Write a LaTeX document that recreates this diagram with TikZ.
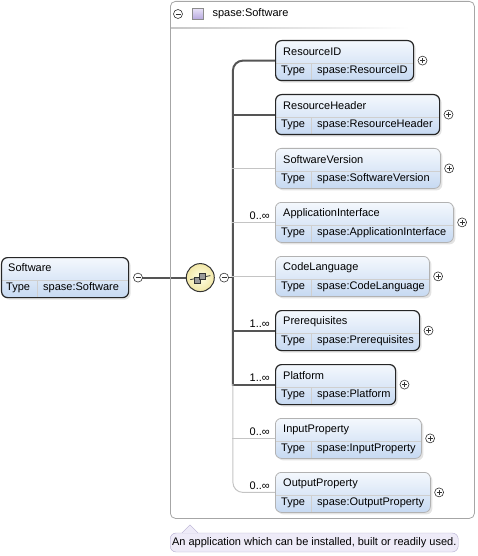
\documentclass[tikz,border=0pt]{standalone}
\usepackage{fontspec}
\setmainfont{Liberation Sans}
\usetikzlibrary{positioning,shadows,backgrounds}
\definecolor{hdtop}{HTML}{F4F8FD}
\definecolor{hdbot}{HTML}{C3D7F1}
\definecolor{typebg}{HTML}{EFEFEF}
\definecolor{sepgray}{HTML}{CFCFCF}
\definecolor{lnreq}{HTML}{555555}
\definecolor{lnopt}{HTML}{C4C4C4}
\definecolor{tipfill}{HTML}{EEEBF8}
\definecolor{tipdraw}{HTML}{B4ADD0}
\definecolor{seqin}{HTML}{FFFFE6}
\definecolor{seqout}{HTML}{F2E7A6}
\definecolor{sqtop}{HTML}{E8E2F8}
\definecolor{sqbot}{HTML}{B5A7DE}
\begin{document}
\begin{tikzpicture}[x=1pt,y=-1pt,
    font=\fontsize{11}{12.5}\selectfont,
    elbox/.style={rounded corners=6pt,minimum height=40pt,inner sep=0pt,anchor=north west,
      drop shadow={shadow xshift=2pt,shadow yshift=-2pt,fill=black!22},
      path picture={
        \fill[typebg,sharp corners] (path picture bounding box.south west) rectangle (path picture bounding box.north east);
        \shade[top color=hdtop,bottom color=hdbot,sharp corners] (path picture bounding box.north west) rectangle ([yshift=-23pt]path picture bounding box.east);
        \draw[sepgray,line width=0.7pt,sharp corners] ([yshift=-23pt]path picture bounding box.north west) -- ([yshift=-23pt]path picture bounding box.north east);
        \draw[sepgray,line width=0.7pt,sharp corners] ([xshift=36pt,yshift=-23pt]path picture bounding box.north west) -- ([xshift=36pt]path picture bounding box.south west);
      }},
    box req/.style={elbox,draw=black!85,line width=1.2pt},
    box opt/.style={elbox,draw=black!30,line width=0.8pt},
    txt/.style={anchor=west,inner sep=0pt},
    mult/.style={anchor=east,inner sep=0pt},
    line req/.style={draw=lnreq,line width=2pt,line cap=rect},
    line opt/.style={draw=lnopt,line width=1pt,line cap=rect},
    pm/.style={circle,draw=black!80,fill=white,line width=0.6pt,minimum size=9pt,inner sep=0pt},
    minus/.style={pm,path picture={\draw[line width=0.7pt] ([xshift=-2.5pt]path picture bounding box.center) -- ([xshift=2.5pt]path picture bounding box.center);}},
    plus/.style={pm,path picture={\draw[line width=0.7pt] ([xshift=-2.5pt]path picture bounding box.center) -- ([xshift=2.5pt]path picture bounding box.center) ([yshift=-2.5pt]path picture bounding box.center) -- ([yshift=2.5pt]path picture bounding box.center);}},
    seq/.style={circle,draw=black!80,line width=1pt,minimum size=28pt,inner sep=0pt,inner color=seqin,outer color=seqout},
    icn/.style={draw=black!80,line width=0.6pt,fill=black!40},
    panel/.style={draw=black!35,line width=0.8pt,rounded corners=5pt,inner sep=0pt},
    tip/.style={draw=tipdraw,fill=tipfill,rounded corners=6pt,minimum width=288pt,minimum height=19pt,inner sep=0pt}
    ]
    \useasboundingbox (0,0) rectangle (477,556);

    \node[panel,anchor=north west,minimum width=304pt,minimum height=517pt] (pnl) at (170,1) {};
    \shade[left color=black!22,right color=white] (171,27.5) rectangle (410,29);
    \node[minus] (hm) at (178,14) {};
    \node[draw=black!45,line width=0.6pt,top color=sqtop,bottom color=sqbot,minimum size=11pt,inner sep=0pt,right=9pt of hm] (hsq) {};
    \node[txt,right=9pt of hsq] (htxt) {spase:Software};

    \node[box req,minimum width=127pt] (sw) at (1,257) {};
    \node[txt] (swn) at ([xshift=7pt,yshift=-11pt]sw.north west) {Software};
    \node[txt] (swt) at ([xshift=5pt,yshift=-30.5pt]sw.north west) {Type};
    \node[txt] (swv) at ([xshift=42pt,yshift=-30.5pt]sw.north west) {spase:Software};
    \node[minus,right=4pt of sw] (swm) {};
    \node[seq,right=43pt of swm] (seq) {};
    \node[minus,right=4.5pt of seq] (seqm) {};
    \coordinate[right=4pt of seqm] (sp);
    \draw[black!80,line width=0.8pt] ([xshift=-10pt,yshift=-2pt]seq.center) -- ([xshift=10pt,yshift=2pt]seq.center);
    \draw[icn] ([shift={(-6pt,-6pt)}]seq.center) rectangle ++(6pt,6pt);
    \draw[icn] ([shift={(-1pt,-2pt)}]seq.center) rectangle ++(6pt,6pt);

    \foreach \i/\nm/\w/\k in {1/ResourceID/138/req,2/ResourceHeader/164/req,3/SoftwareVersion/165/opt,
        4/ApplicationInterface/178/opt,5/CodeLanguage/154/opt,6/Prerequisites/144/req,
        7/Platform/120/req,8/InputProperty/146/opt,9/OutputProperty/155/opt}
    {
        \node[box \k,minimum width=\w pt] (e\i) at (275,{40+54*(\i-1)}) {};
        \node[txt] (n\i) at ([xshift=8pt,yshift=-12pt]e\i.north west) {\nm};
        \node[txt] (t\i) at ([xshift=6pt,yshift=-31pt]e\i.north west) {Type};
        \node[txt] (v\i) at ([xshift=42pt,yshift=-31pt]e\i.north west) {spase:\nm};
        \node[plus,right=3.5pt of e\i] (p\i) {};
    }
    \foreach \i/\m in {4/0..∞,6/1..∞,7/1..∞,8/0..∞,9/0..∞}
    {\node[mult] (m\i) at ([xshift=-5pt,yshift=7pt]e\i.west) {\m};}

    \begin{scope}[on background layer]
        \draw[line req] (swm) -- (seq);
        \draw[black!70,line width=1pt] (seqm) -- (sp);
        \draw[line req,rounded corners=10pt] (e1.west) -| (sp |- e7.west);
        \foreach \i/\k in {2/req,3/opt,4/opt,5/opt,6/req,7/req,8/opt}
        {\draw[line \k] (sp |- e\i.west) -- (e\i.west);}
        \draw[line opt,rounded corners=10pt] (sp |- e7.west) |- (e9.west);
    \end{scope}

    \node[tip,below right=14pt and 0pt of pnl.south west] (tip) {An application which can be installed, built or readily used.};
    \draw[tipdraw,fill=tipfill] ([xshift=12pt]tip.north west) -- ([xshift=20pt,yshift=8pt]tip.north west) -- ([xshift=28pt]tip.north west);
\end{tikzpicture}
\end{document}
